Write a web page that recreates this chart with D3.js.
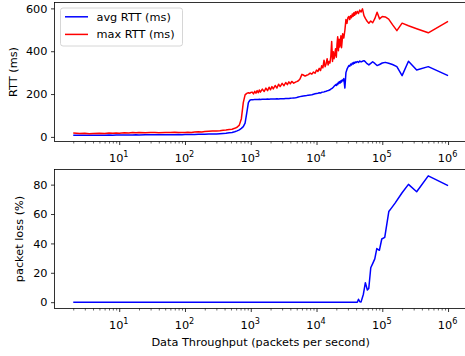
<!DOCTYPE html>
<html><head><meta charset="utf-8">
<script src="https://cdn.jsdelivr.net/npm/d3@7"></script>
<style>
html,body{margin:0;padding:0;background:#fff;}
svg{display:block;font-family:"DejaVu Sans",sans-serif;}
</style></head><body>
<svg id="chart" width="465" height="356"></svg>
<script>
// Offered load (packets per second) for the RTT measurements
const throughput = [
  2, 2.5, 3, 3.5, 4, 5, 6, 7, 8, 9, 10,
  12, 14, 16, 18, 20, 25, 30, 35, 40, 50, 60, 70, 80, 90, 100,
  110, 125, 140, 160, 180, 200, 230, 260, 300, 340, 380, 420, 470, 520, 570, 620, 670, 720, 770, 820, 870, 920, 970, 1000,
  1050, 1100, 1150, 1200, 1250, 1300, 1350, 1400, 1500, 1600, 1700, 1800, 1900, 2000, 2100, 2200, 2350, 2500, 2650, 2800,
  3000, 3200, 3400, 3600, 3800, 4000, 4200, 4500, 4800, 5000, 5300, 5600, 6000, 6300, 6700, 7100, 7500, 8000, 8500, 9000, 9500, 10000,
  10500, 11000, 11500, 12000, 12500, 13000, 13500, 14000, 14500, 15000, 15500, 16000, 16500, 17000, 17500, 18000, 18500, 19000, 19500, 20000,
  20500, 21000, 21500, 22000, 22500, 23000, 23500, 24000, 24500, 25000, 26000, 27000, 28000, 29000, 30000, 31000, 32000, 33000, 34000, 35000,
  36000, 37000, 38000, 39000, 40000, 41667, 43478, 45455, 47619,
  50000, 52632, 55556, 58824, 62500, 66667, 71429, 76923, 83333, 90909, 100000, 111111, 125000, 142857, 166667, 200000, 250000, 333333, 500000, 1000000
];
const avgRtt = [
  8, 8, 8, 8, 8, 8, 8, 9, 8, 9, 9,
  9, 9, 9, 10, 9, 10, 10, 10, 10, 10, 10, 10, 11, 10, 11,
  11, 11, 11, 12, 12, 12, 13, 13, 14, 15, 16, 17, 19, 21, 24, 28, 33, 40, 48, 64, 112, 160, 171, 173,
  174, 174, 175, 175, 175, 175, 176, 175, 176, 176, 176, 177, 176, 177, 177, 177, 177, 178, 177, 178,
  178, 178, 179, 179, 179, 180, 181, 182, 183, 184, 186, 188, 190, 191, 192, 193, 195, 196, 197, 199, 201, 203,
  204, 206, 205, 208, 209, 210, 212, 213, 215, 216, 218, 220, 223, 226, 228, 232, 236, 240, 244, 240,
  248, 244, 255, 250, 258, 252, 262, 256, 266, 262, 272, 228, 300, 315, 325, 333, 330, 340, 336, 345,
  340, 348, 344, 350, 347, 352, 348, 354, 350,
  353, 356, 350, 342, 336, 343, 351, 343, 333, 338, 345, 348, 344, 338, 328, 286, 353, 312, 328, 286
];
const maxRtt = [
  18, 16, 17, 15, 16, 17, 16, 18, 17, 18, 17,
  19, 18, 20, 19, 20, 19, 21, 20, 19, 21, 20, 22, 21, 20, 21,
  22, 21, 23, 24, 23, 25, 26, 27, 28, 29, 31, 32, 34, 36, 40, 45, 55, 85, 160, 196, 203, 206, 204, 207,
  209, 201, 213, 204, 216, 206, 219, 209, 223, 212, 228, 216, 232, 220, 235, 224, 240, 228, 246, 235,
  250, 239, 254, 244, 257, 248, 259, 251, 256, 258, 262, 270, 292, 289, 284, 288, 291, 298, 293, 303, 297, 312,
  305, 320, 310, 332, 322, 358, 328, 342, 365, 336, 352, 345, 375, 445, 352, 398, 365, 388, 412, 372,
  432, 468, 402, 456, 420, 442, 472, 416, 446, 482, 462, 498, 548, 530, 556, 562, 548, 566, 556, 574,
  563, 580, 568, 584, 574, 586, 576, 592, 583,
  598, 566, 552, 540, 531, 541, 533, 552, 582, 551, 562, 560, 550, 524, 496, 531, 519, 505, 486, 539
];

// Offered load and measured packet loss
const lossThroughput = [
  2, 10, 100, 1000, 10000, 30000, 40000, 41700, 43500, 45500, 47600, 51600, 55300, 59300, 62300,
  66800, 71700, 76900, 82500, 90300, 98200, 109000, 125600, 137500, 156500, 200000, 250000, 333333, 500000, 1000000
];
const lossPct = [
  0, 0, 0, 0, 0, 0, 0, 0, 2.0, 0.3, 0.2, 5.4, 13.3, 8.3, 9.3,
  23.4, 26.4, 29.5, 36.5, 35.3, 43.0, 44.1, 61.7, 64.0, 67.4, 74.5, 80.2, 75.2, 86.0, 79.3
];

const decadeExponents = [1, 2, 3, 4, 5, 6];
const rttTicks = [0, 200, 400, 600];
const lossTicks = [0, 20, 40, 60, 80];
const legendNames = ["avg RTT (ms)", "max RTT (ms)"];
const legendColors = ["#0000ff", "#ff0000"];

const FONT = 11.3;
const svg = d3.select("#chart");
const plotLeft = 54.5, plotRight = 466.8;
const topPanel = {top: 2.5, bottom: 141.5};
const lossPanel = {top: 169.5, bottom: 308.5};

// 5% padding on each side, in log space for x and linear space for y
function padLog(vals) {
  const [lo, hi] = d3.extent(vals).map(Math.log10);
  const m = (hi - lo) * 0.05;
  return [10 ** (lo - m), 10 ** (hi + m)];
}
function padLin(vals) {
  const [lo, hi] = d3.extent(vals);
  const m = (hi - lo) * 0.05;
  return [lo - m, hi + m];
}

const x = d3.scaleLog().domain(padLog(throughput.concat(lossThroughput))).range([plotLeft, plotRight]);
const yRtt = d3.scaleLinear().domain(padLin(avgRtt.concat(maxRtt))).range([topPanel.bottom, topPanel.top]);
const yLoss = d3.scaleLinear().domain(padLin(lossPct)).range([lossPanel.bottom, lossPanel.top]);

const [d0, d1] = x.domain();
const minorTicks = [];
for (let e = Math.floor(Math.log10(d0)); e <= Math.ceil(Math.log10(d1)); e++) {
  for (let m = 2; m <= 9; m++) {
    const v = m * 10 ** e;
    if (v >= d0 && v <= d1) minorTicks.push(v);
  }
}

function drawPanel(panel, y, yTicks, yLabel, yLabelX) {
  const g = svg.append("g");

  // x axis: minor then major ticks
  const minor = g.append("g").attr("transform", `translate(0,${panel.bottom})`)
    .call(d3.axisBottom(x).tickValues(minorTicks).tickSize(2).tickFormat(""));
  minor.select(".domain").remove();
  minor.selectAll(".tick line").attr("stroke", "#000").attr("stroke-width", 0.6);

  const major = g.append("g").attr("transform", `translate(0,${panel.bottom})`)
    .call(d3.axisBottom(x).tickValues(decadeExponents.map(e => 10 ** e)).tickSize(3.5).tickFormat(""));
  major.select(".domain").remove();
  major.selectAll(".tick line").attr("stroke", "#000").attr("stroke-width", 0.8);
  major.selectAll(".tick").each(function (d) {
    const t = d3.select(this).append("text")
      .attr("y", 20).attr("text-anchor", "middle")
      .attr("fill", "#000").attr("font-size", FONT).attr("font-family", "DejaVu Sans")
      .attr("x", -1);
    t.append("tspan").text("10");
    t.append("tspan").attr("font-size", FONT * 0.72).attr("dy", -4.6)
      .text(String(Math.round(Math.log10(d))));
  });

  // y axis
  const ya = g.append("g").attr("transform", `translate(${plotLeft},0)`)
    .call(d3.axisLeft(y).tickValues(yTicks).tickSize(3.5).tickPadding(3.5).tickFormat(d3.format("d")));
  ya.select(".domain").remove();
  ya.selectAll(".tick line").attr("stroke", "#000").attr("stroke-width", 0.8);
  ya.selectAll(".tick text").attr("fill", "#000").attr("font-size", FONT).attr("font-family", "DejaVu Sans");

  // frame
  g.append("rect")
    .attr("x", plotLeft).attr("y", panel.top)
    .attr("width", plotRight - plotLeft).attr("height", panel.bottom - panel.top)
    .attr("fill", "none").attr("stroke", "#000").attr("stroke-width", 0.8);

  g.append("text")
    .attr("transform", `translate(${yLabelX},${(panel.top + panel.bottom) / 2}) rotate(-90)`)
    .attr("text-anchor", "middle").attr("font-size", FONT).attr("fill", "#000")
    .text(yLabel);
  return g;
}

const gTop = drawPanel(topPanel, yRtt, rttTicks, "RTT (ms)", 17.3);
const gLoss = drawPanel(lossPanel, yLoss, lossTicks, "packet loss (%)", 23.3);

const lineOf = (xs, ys, y) => d3.line().x((d, i) => x(xs[i])).y(d => y(d))(ys);

gTop.append("path").attr("d", lineOf(throughput, avgRtt, yRtt))
  .attr("fill", "none").attr("stroke", legendColors[0]).attr("stroke-width", 1.5).attr("stroke-linejoin", "round");
gTop.append("path").attr("d", lineOf(throughput, maxRtt, yRtt))
  .attr("fill", "none").attr("stroke", legendColors[1]).attr("stroke-width", 1.5).attr("stroke-linejoin", "round");
gLoss.append("path").attr("d", lineOf(lossThroughput, lossPct, yLoss))
  .attr("fill", "none").attr("stroke", legendColors[0]).attr("stroke-width", 1.5).attr("stroke-linejoin", "round");

// legend
const lg = gTop.append("g");
lg.append("rect").attr("x", 60.5).attr("y", 8).attr("width", 122).attr("height", 38).attr("rx", 2.5)
  .attr("fill", "#fff").attr("fill-opacity", 0.8).attr("stroke", "#cccccc").attr("stroke-width", 0.8);
legendNames.forEach((name, i) => {
  const cy = 16.8 + i * 17.6;
  lg.append("line").attr("x1", 65).attr("x2", 88).attr("y1", cy).attr("y2", cy)
    .attr("stroke", legendColors[i]).attr("stroke-width", 1.5);
  lg.append("text").attr("x", 96.5).attr("y", cy + 4).attr("font-size", FONT).attr("fill", "#000").text(name);
});

// shared x label
svg.append("text").attr("x", (plotLeft + plotRight) / 2).attr("y", 346)
  .attr("text-anchor", "middle").attr("font-size", FONT).attr("fill", "#000")
  .text("Data Throughput (packets per second)");
</script>
</body></html>
